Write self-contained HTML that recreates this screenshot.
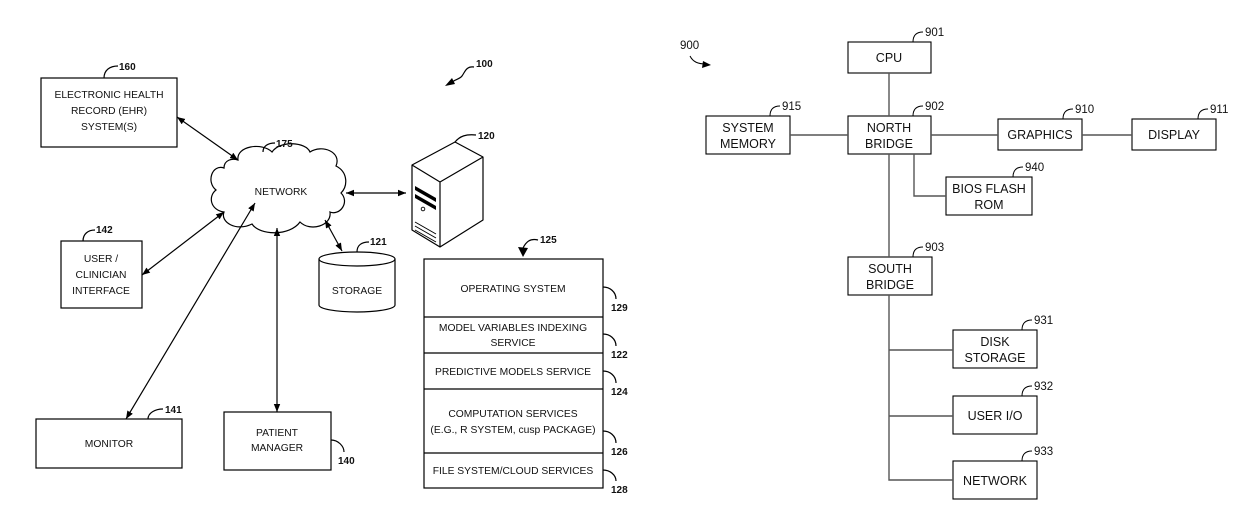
<!DOCTYPE html>
<html><head><meta charset="utf-8"><style>
html,body{margin:0;padding:0;background:#fff;}
svg{display:block;}
.l{font-family:"Liberation Sans",sans-serif;font-size:10.3px;fill:#111;}
.lb{font-family:"Liberation Sans",sans-serif;font-size:10px;font-weight:bold;fill:#111;}
.r{font-family:"Liberation Sans",sans-serif;font-size:12.5px;fill:#111;}
.rn{font-family:"Liberation Sans",sans-serif;font-size:11.5px;fill:#111;}
</style></head><body>
<svg width="1240" height="529" viewBox="0 0 1240 529" xmlns="http://www.w3.org/2000/svg">
<defs>
<marker id="a" viewBox="0 0 10 10" refX="10" refY="5" markerWidth="8" markerHeight="8" orient="auto-start-reverse" markerUnits="userSpaceOnUse"><path d="M0,1 L10,5 L0,9 z" fill="#000"/></marker>
</defs>
<g fill="none" stroke="#000" stroke-width="1.2">
<rect x="41" y="78" width="136" height="69"/>
<rect x="61" y="241" width="81" height="67"/>
<rect x="36" y="419" width="146" height="49"/>
<rect x="224" y="412" width="107" height="58"/>
<path d="M238,160 C236,146 262,142 272,152 C280,140 306,142 310,152 C322,144 342,152 336,166 C348,172 348,186 341,193 C350,202 340,216 330,212 C332,226 310,232 300,222 C290,236 260,236 252,224 C236,232 220,222 224,212 C210,210 208,196 216,190 C206,182 212,164 224,168 C224,160 232,158 238,160 Z"/>
<path d="M319,259 L319,305 A38,7 0 0 0 395,305 L395,259"/>
<ellipse cx="357" cy="259" rx="38" ry="7"/>
<path d="M412,165 L455,142 L483,157 L440,182 Z M412,165 L412,230 L440,247 L440,182 M440,247 L483,220 L483,157" stroke-linejoin="round"/>
<path d="M415,222 L436,234 M415,226 L436,238 M415,230 L436,242" stroke-width="1"/>
<circle cx="423" cy="209" r="1.8" stroke-width="0.9"/>
<rect x="424" y="259" width="179" height="229"/>
<path d="M424,317 H603 M424,353 H603 M424,389 H603 M424,453 H603"/>
<path d="M177,117 L238,160" marker-start="url(#a)" marker-end="url(#a)"/>
<path d="M142,275 L224,212" marker-start="url(#a)" marker-end="url(#a)"/>
<path d="M126,419 L255,203" marker-start="url(#a)" marker-end="url(#a)"/>
<path d="M277,412 L277,228" marker-start="url(#a)" marker-end="url(#a)"/>
<path d="M325,220 L342,251" marker-start="url(#a)" marker-end="url(#a)"/>
<path d="M346,193 L406,193" marker-start="url(#a)" marker-end="url(#a)"/>
<path d="M104,78 C104,70 110,66 118,66"/>
<path d="M263,152 C263,146 268,143 275,143"/>
<path d="M455,142 C460,136 466,134 476,135"/>
<path d="M83,241 C83,234 88,230 95,230"/>
<path d="M357,252 C357,245 362,242 369,242"/>
<path d="M148,419 C148,413 155,409 163,409"/>
<path d="M331,440 C338,440 344,446 344,452"/>
<path d="M603,287 C610,287 616,292 616,299"/>
<path d="M603,334 C610,334 616,339 616,346"/>
<path d="M603,371 C610,371 616,376 616,383"/>
<path d="M603,431 C610,431 616,436 616,443"/>
<path d="M603,470 C610,470 616,475 616,481"/>
<path d="M474,67 C466,66 465,72 462,76 C460,79 456,79 452,82"/>
<path d="M538,240 C530,238 526,242 523,248"/>
</g>
<path d="M415,186 L436,198 L436,202 L415,190 Z M415,194 L436,206 L436,210 L415,198 Z" fill="#000"/>
<path d="M420,186 L432,193" stroke="#fff" stroke-width="1"/>
<path d="M445,86 L452,78 L455,84 Z" fill="#000"/>
<path d="M523,257 L518,247 L528,248 Z" fill="#000"/>
<g class="l" text-anchor="middle">
<text x="109" y="98">ELECTRONIC HEALTH</text>
<text x="109" y="114">RECORD (EHR)</text>
<text x="109" y="130">SYSTEM(S)</text>
<text x="281" y="195">NETWORK</text>
<text x="101" y="262">USER /</text>
<text x="101" y="278">CLINICIAN</text>
<text x="101" y="294">INTERFACE</text>
<text x="357" y="294">STORAGE</text>
<text x="109" y="447">MONITOR</text>
<text x="277" y="436">PATIENT</text>
<text x="277" y="451">MANAGER</text>
<text x="513" y="292">OPERATING SYSTEM</text>
<text x="513" y="331">MODEL VARIABLES INDEXING</text>
<text x="513" y="346">SERVICE</text>
<text x="513" y="375">PREDICTIVE MODELS SERVICE</text>
<text x="513" y="417">COMPUTATION SERVICES</text>
<text x="513" y="433">(E.G., R SYSTEM, cusp PACKAGE)</text>
<text x="513" y="474">FILE SYSTEM/CLOUD SERVICES</text>
</g>
<g class="lb">
<text x="119" y="70">160</text>
<text x="276" y="147">175</text>
<text x="476" y="67">100</text>
<text x="478" y="139">120</text>
<text x="96" y="233">142</text>
<text x="370" y="245">121</text>
<text x="540" y="243">125</text>
<text x="165" y="413">141</text>
<text x="338" y="464">140</text>
<text x="611" y="311">129</text>
<text x="611" y="358">122</text>
<text x="611" y="395">124</text>
<text x="611" y="455">126</text>
<text x="611" y="493">128</text>
</g>
<g fill="none" stroke="#000" stroke-width="1.1">
<rect x="848" y="42" width="83" height="31"/>
<rect x="848" y="116" width="83" height="38"/>
<rect x="706" y="116" width="84" height="38"/>
<rect x="998" y="119" width="84" height="31"/>
<rect x="1132" y="119" width="84" height="31"/>
<rect x="946" y="177" width="86" height="38"/>
<rect x="848" y="257" width="84" height="38"/>
<rect x="953" y="330" width="84" height="38"/>
<rect x="953" y="396" width="84" height="38"/>
<rect x="953" y="461" width="84" height="38"/>
</g>
<g fill="none" stroke="#555" stroke-width="1.4">
<path d="M889,73 V116 M889,154 V257 M790,135 H848 M931,135 H998 M1082,135 H1132 M914,154 V196 H946 M889,295 V480 H953 M889,350 H953 M889,416 H953"/>
</g>
<g fill="none" stroke="#000" stroke-width="1">
<path d="M913,42 C913,35 917,32 923,32"/>
<path d="M913,116 C913,109 917,106 923,106"/>
<path d="M770,116 C770,109 774,106 780,106"/>
<path d="M1063,119 C1063,112 1067,109 1073,109"/>
<path d="M1198,119 C1198,112 1202,109 1208,109"/>
<path d="M1013,177 C1013,170 1017,167 1023,167"/>
<path d="M913,257 C913,250 917,247 923,247"/>
<path d="M1022,330 C1022,323 1026,320 1032,320"/>
<path d="M1022,396 C1022,389 1026,386 1032,386"/>
<path d="M1022,461 C1022,454 1026,451 1032,451"/>
<path d="M690,56 C693,62 698,64 706,64"/>
</g>
<path d="M711,65 L702,68 L703,61 Z" fill="#000"/>
<g class="rn">
<text x="680" y="49">900</text>
<text x="925" y="36">901</text>
<text x="925" y="110">902</text>
<text x="782" y="110">915</text>
<text x="1075" y="113">910</text>
<text x="1210" y="113">911</text>
<text x="1025" y="171">940</text>
<text x="925" y="251">903</text>
<text x="1034" y="324">931</text>
<text x="1034" y="390">932</text>
<text x="1034" y="455">933</text>
</g>
<g class="r" text-anchor="middle">
<text x="889" y="62">CPU</text>
<text x="889" y="132">NORTH</text>
<text x="889" y="148">BRIDGE</text>
<text x="748" y="132">SYSTEM</text>
<text x="748" y="148">MEMORY</text>
<text x="1040" y="139">GRAPHICS</text>
<text x="1174" y="139">DISPLAY</text>
<text x="989" y="193">BIOS FLASH</text>
<text x="989" y="209">ROM</text>
<text x="890" y="273">SOUTH</text>
<text x="890" y="289">BRIDGE</text>
<text x="995" y="346">DISK</text>
<text x="995" y="362">STORAGE</text>
<text x="995" y="420">USER I/O</text>
<text x="995" y="485">NETWORK</text>
</g>
</svg>
</body></html>
